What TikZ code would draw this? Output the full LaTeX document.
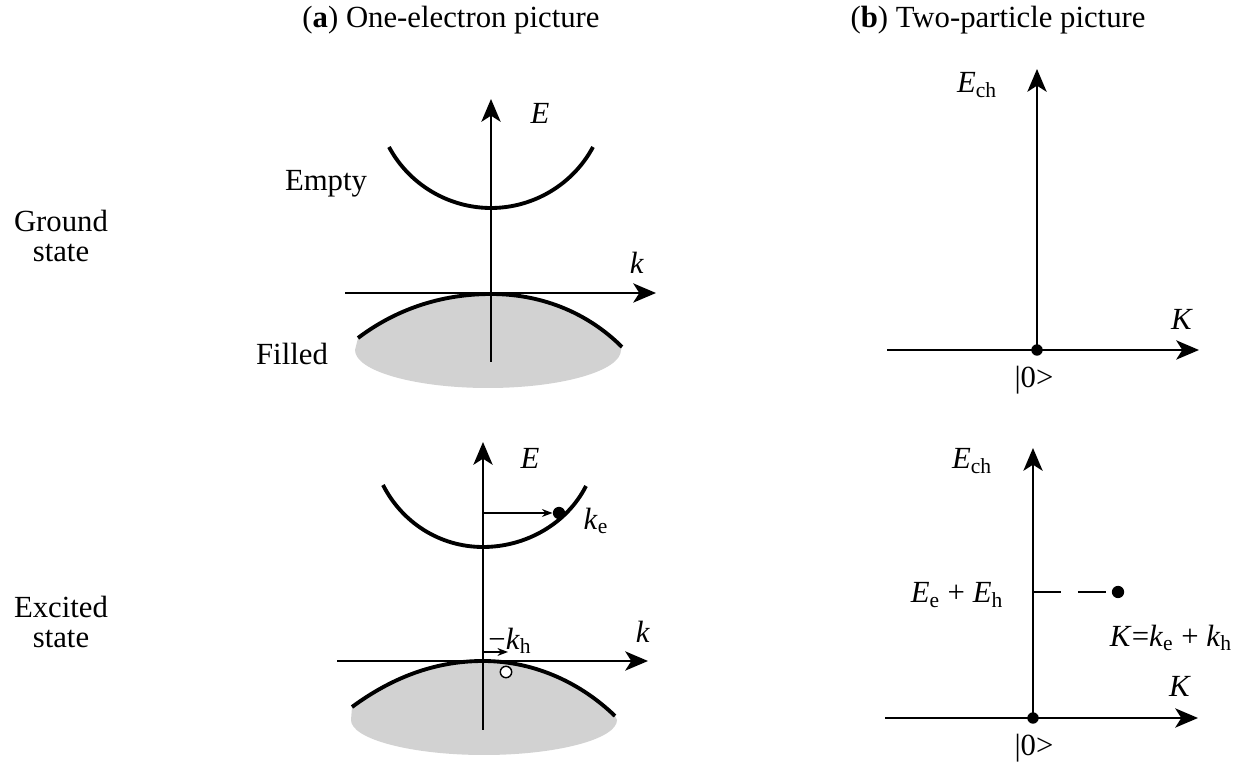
\documentclass[tikz,border=0pt]{standalone}
\usepackage{fontspec}
\setmainfont{Liberation Serif}
\usetikzlibrary{arrows.meta, positioning}
\definecolor{fillgrey}{RGB}{210,210,210}

\begin{document}
\begin{tikzpicture}[x=0.02cm, y=-0.02cm, >=Stealth, font=\fontsize{17.5}{20}\selectfont,
    axis/.style={line width=0.9pt, -{Stealth[length=13pt, width=11pt, inset=3.5pt]}},
    band/.style={line width=2.2pt},
    shortarrow/.style={line width=0.8pt, -{Stealth[length=6pt, width=4.5pt]}},
    dot/.style={circle, fill=black, inner sep=0pt, minimum size=6.5pt},
    hole/.style={circle, draw=black, fill=white, line width=0.8pt, inner sep=0pt, minimum size=6.5pt}]
  \useasboundingbox (0,0) rectangle (1242,766);

  % Titles and row labels
  \node (titleA) at (451,20) {(\textbf{a}) One-electron picture};
  \node (titleB) at (998,20) {(\textbf{b}) Two-particle picture};
  \node[align=center] (ground) at (61,236) {Ground\\[-3pt]state};
  \node[align=center] (excited) at (61,622) {Excited\\[-3pt]state};

  % (a) ground state
  \fill[fillgrey] (358,338) .. controls (395,310) and (440,294) .. (491,294)
    .. controls (545,294) and (590,315) .. (622,347) -- (621,350)
    .. controls (621,371) and (561,388) .. (488,388)
    .. controls (415,388) and (355,371) .. (355,350) -- cycle;
  \draw[band] (358,338) .. controls (395,310) and (440,294) .. (491,294)
    .. controls (545,294) and (590,315) .. (622,347);
  \draw[band] (389,147) .. controls (409,184.4) and (448.5,208) .. (491,208)
    .. controls (533.5,208) and (573,184.4) .. (593,147);
  \coordinate (aE0) at (491,362);
  \coordinate (aE1) at (491,99);
  \coordinate (ak0) at (345,293);
  \coordinate (ak1) at (656,293);
  \draw[axis] (aE0) -- (aE1);
  \draw[axis] (ak0) -- (ak1);
  \node (aE) at (540,113) {\textit{E}};
  \node (ak) at (637,263) {\textit{k}};
  \node (empty) at (326,184) {Empty};
  \node (filled) at (292,354) {Filled};

  % (a) excited state
  \fill[fillgrey] (352,707) .. controls (390,679) and (433,661) .. (483,661)
    .. controls (537,661) and (583,685) .. (615,716) -- (617,720)
    .. controls (617,739) and (557,755) .. (484,755)
    .. controls (411,755) and (351,739) .. (351,720) -- cycle;
  \draw[band] (352,707) .. controls (390,679) and (433,661) .. (483,661)
    .. controls (537,661) and (583,685) .. (615,716);
  \draw[band] (383,485) .. controls (402.3,523) and (440.3,547) .. (483,547)
    .. controls (525.7,547) and (566.7,524) .. (586,486);
  \coordinate (cE0) at (483,730);
  \coordinate (cE1) at (483,442);
  \coordinate (ck0) at (337,661);
  \coordinate (ck1) at (648,661);
  \draw[axis] (cE0) -- (cE1);
  \draw[axis] (ck0) -- (ck1);
  \node (cE) at (530,458) {\textit{E}};
  \node (ck) at (643,632) {\textit{k}};
  \node[dot, minimum size=7pt] (elec) at (559,513) {};
  \node[hole] (hol) at (506,672) {};
  \coordinate (ke0) at (483,513);
  \coordinate (kh0) at (483,652);
  \coordinate (kh1) at (508,652);
  \draw[shortarrow] (ke0) -- (elec.west);
  \draw[shortarrow] (kh0) -- (kh1);
  \node (ke) at (596,521) {\textit{k}\textsubscript{e}};
  \node (kh) at (510,641) {−\textit{k}\textsubscript{h}};

  % (b) ground state
  \node[dot] (vacA) at (1037,350) {};
  \coordinate (bK0) at (887,350);
  \coordinate (bK1) at (1199,350);
  \coordinate (bE1) at (1037,69);
  \draw[axis] (bK0) -- (bK1);
  \draw[axis] (vacA.center) -- (bE1);
  \node (bE) at (977,85) {\textit{E}\textsubscript{ch}};
  \node (bK) at (1182,319) {\textit{K}};
  \node (bvac) at (1034,380) {|0>};

  % (b) excited state
  \node[dot] (vacB) at (1033,718) {};
  \coordinate (dK0) at (885,718);
  \coordinate (dK1) at (1198,718);
  \coordinate (dE1) at (1033,448);
  \draw[axis] (dK0) -- (dK1);
  \draw[axis] (vacB.center) -- (dE1);
  \node[dot, minimum size=7pt] (pair) at (1118,592) {};
  \coordinate (lvl) at (1033,592);
  \draw[line width=0.9pt, dash pattern=on 16pt off 9.5pt] (lvl) -- (pair.center);
  \node (dE) at (972,461) {\textit{E}\textsubscript{ch}};
  \node (dlvl) at (957,595) {\textit{E}\textsubscript{e} + \textit{E}\textsubscript{h}};
  \node (dpair) at (1171,638) {\textit{K}=\textit{k}\textsubscript{e} + \textit{k}\textsubscript{h}};
  \node (dK) at (1180,686) {\textit{K}};
  \node (dvac) at (1034,748) {|0>};
\end{tikzpicture}
\end{document}
